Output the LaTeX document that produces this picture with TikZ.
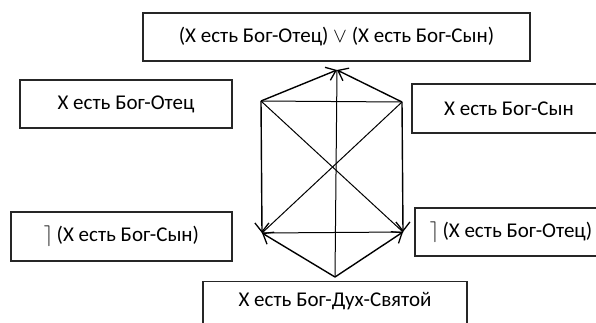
\documentclass[tikz,border=0pt]{standalone}
\usepackage{fontspec}
\setmainfont{Carlito}
\usetikzlibrary{arrows.meta}

\begin{document}
\begin{tikzpicture}[x=1pt, y=-1pt, every node/.style={font=\fontsize{21}{25}\selectfont},
      box/.style={draw=black!85, line width=1.1pt, rectangle, inner sep=0pt},
      arr/.style={-{Straight Barb[length=9pt,width=14pt,line width=1.3pt]}, line width=1.4pt},
      plain/.style={line width=1pt}]
      \useasboundingbox (0,0) rectangle (596,322);
      % statements
      \node[box, minimum width=387pt, minimum height=48pt] (either) at (336.5,37) {(X есть Бог-Отец) $\vee$ (X есть Бог-Сын)};
      \node[box, minimum width=212pt, minimum height=48pt] (father) at (126,104) {X есть Бог-Отец};
      \node[box, minimum width=194pt, minimum height=49pt] (son) at (509,108.5) {X есть Бог-Сын};
      \node[box, minimum width=221pt, minimum height=49pt] (notson) at (121.5,236.5) {$\rceil$\,(X есть Бог-Сын)};
      \node[box, minimum width=192pt, minimum height=48pt] (notfather) at (511,232) {$\rceil$\,(X есть Бог-Отец)};
      \node[box, anchor=north, minimum width=264pt, inner ysep=10pt, text height=15pt, text depth=30pt] (spirit) at (335,281) {X есть Бог-Дух-Святой};
      % hexagon
      \coordinate (apex) at (337,70);
      \coordinate (ul) at (261,101);
      \coordinate (ur) at (402,102);
      \coordinate (ll) at (262,233);
      \coordinate (lr) at (403,232);
      \coordinate (base) at (335,277);
      \draw[plain] (ul) -- (ur);
      \draw[plain] (ll) -- (lr);
      \draw[plain] (ul) -- (lr);
      \draw[plain] (ur) -- (ll);
      \draw[plain] (apex) -- (base);
      \draw[arr] (ul) -- (apex);
      \draw[arr] (ur) -- (apex);
      \draw[arr] (ul) -- (ll);
      \draw[arr] (ur) -- (lr);
      \draw[arr] (base) -- (ll);
      \draw[arr] (base) -- (lr);
\end{tikzpicture}
\end{document}
